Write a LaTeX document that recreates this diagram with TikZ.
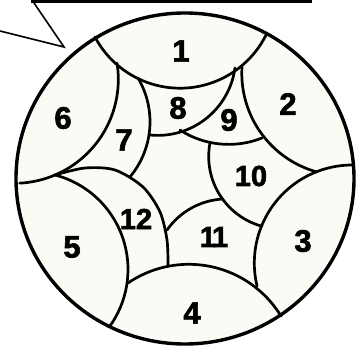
\documentclass[tikz,border=0pt]{standalone}
\usepackage{fontspec}
\setmainfont{Liberation Sans}
\newfontfamily\numfont[FakeBold=2]{Liberation Sans Bold}
\usepackage{tikz}

\definecolor{paper}{RGB}{251,250,244}

\begin{document}
\begin{tikzpicture}[x=1pt, y=-1pt,
  rim/.style={line width=3.4pt},
  edge/.style={line width=2.7pt, line cap=round},
  num/.style={font=\fontsize{31}{31}\selectfont\numfont, inner sep=0pt},
  numb/.style={font=\fontsize{29}{29}\selectfont\numfont, inner sep=0pt}]
  \useasboundingbox (0,0) rectangle (361,352);
  % Callout tail at the top
  \draw[line width=2.2pt] (31,1.5) -- (312,1.5);
  \draw[line width=1.6pt, line join=miter] (32,0) -- (64,47) -- (0,31);
  % Disc (slightly squashed by the scan)
  \filldraw[rim, fill=paper] (185,178.5) ellipse (169 and 165.5);
  % Outer caps 1 to 6
  \draw[edge] (180,-8) ++(152.1:96.2) arc[start angle=152.1, end angle=25.2, radius=96.2];
  \draw[edge] (344.1,73.35) ++(183.6:102.3) arc[start angle=183.6, end angle=105.3, radius=102.3];
  \draw[edge] (352.3,263) ++(-89.6:98) arc[start angle=-89.6, end angle=-193.6, radius=98];
  \draw[edge] (188.8,372.3) ++(-124.25:108) arc[start angle=-124.25, end angle=-31.4, radius=108];
  \draw[edge] (30.3,269.5) ++(-75.35:97.7) arc[start angle=-75.35, end angle=35.3, radius=97.7];
  \draw[edge] (14.3,79.3) ++(-9:104) arc[start angle=-9, end angle=87, radius=104];
  % Inner pieces 7 to 12
  \draw[edge] plot[smooth] coordinates {(55,175) (85,168) (115,170) (143,187) (160,212) (167,240) (168,266)};
  \draw[edge] (64.1,121.8) ++(-30.65:85.9) arc[start angle=-30.65, end angle=39.95, radius=85.9];
  \draw[edge] (157.7,57.4) ++(96.4:78) arc[start angle=96.4, end angle=7.8, radius=78];
  \draw[edge] (228.7,54.5) ++(122.8:89.9) arc[start angle=122.8, end angle=68.25, radius=89.9];
  \draw[edge] (281,156.5) ++(190.8:72.3) arc[start angle=190.8, end angle=105.3, radius=72.3];
  \draw[edge] (226.8,271.9) ++(-145:73) arc[start angle=-145, end angle=-93, radius=73];
  % Numbers
  \node[num] (n1) at (181,51) {1};
  \node[num] (n2) at (288,104) {2};
  \node[num] (n3) at (303,241) {3};
  \node[num] (n4) at (192,313) {4};
  \node[num] (n5) at (72,247) {5};
  \node[num] (n6) at (63,118) {6};
  \node[num] (n7) at (124,140) {7};
  \node[num] (n8) at (178,108) {8};
  \node[num] (n9) at (229,120) {9};
  \node[numb] (n10) at (251,176) {10};
  \node[numb] (n11) at (214,237) {1\kern-4pt1};
  \node[numb] (n12) at (136,219) {12};
\end{tikzpicture}
\end{document}
